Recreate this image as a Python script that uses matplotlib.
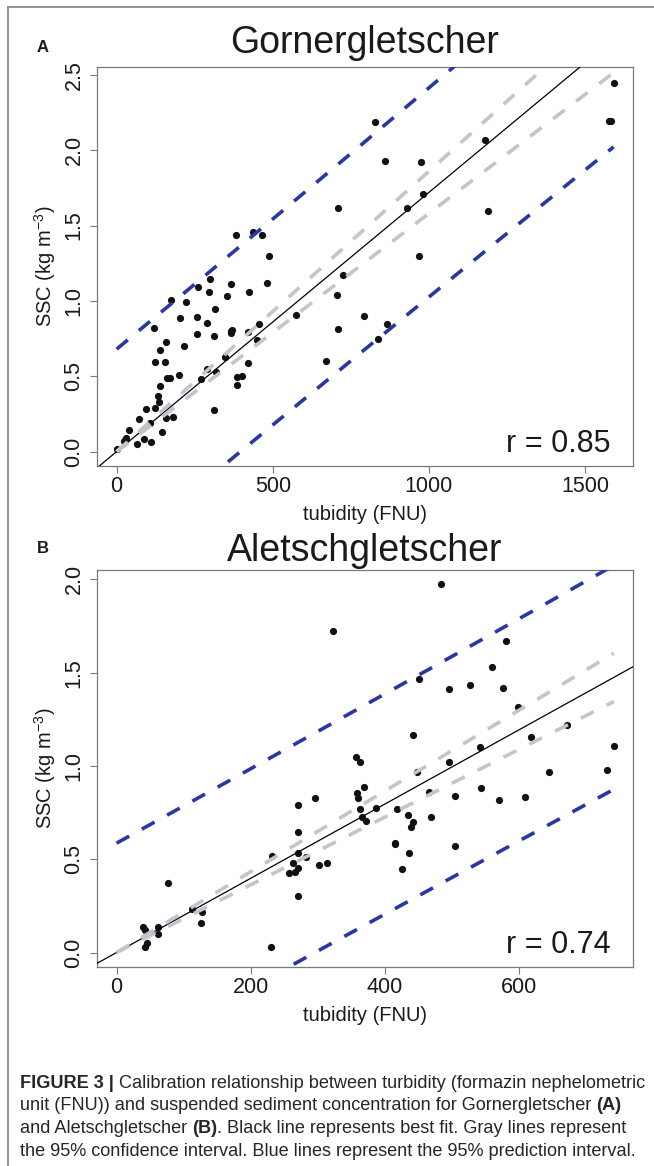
import numpy as np
import matplotlib
matplotlib.use("Agg")
import matplotlib.pyplot as plt
from matplotlib.lines import Line2D

plt.rcParams['font.family'] = ['Liberation Sans', 'DejaVu Sans']
plt.rcParams['mathtext.fontset'] = 'custom'
plt.rcParams['mathtext.rm'] = 'Liberation Sans'

# ---- panel A: Gornergletscher ----
gorner_turb = [829, 708, 381, 436, 465, 487, 300, 262, 367, 296, 423, 482, 353, 173, 221,
               314, 202, 258, 289, 455, 574, 121, 257, 311, 365, 371, 367, 420, 158, 140,
               217, 449, 124, 155, 348, 420, 671, 200, 161, 170, 270, 289, 317, 386, 400,
               387, 140, 133, 135, 123, 94, 72, 106, 157, 179, 39, 144, 29, 23, 86,
               66, 110, 2, 311, 836, 793, 725, 706, 708, 858, 976, 929, 982, 1180, 1190,
               1592, 1576, 1583, 969, 865]
gorner_ssc = [2.19, 1.615, 1.438, 1.456, 1.438, 1.301, 1.143, 1.093, 1.11, 1.059, 1.059, 1.117, 1.035, 1.006, 0.993,
              0.944, 0.886, 0.895, 0.851, 0.849, 0.909, 0.818, 0.778, 0.769, 0.80, 0.81, 0.79, 0.796, 0.729, 0.676,
              0.70, 0.743, 0.596, 0.596, 0.630, 0.587, 0.60, 0.51, 0.485, 0.487, 0.483, 0.55, 0.527, 0.494, 0.50,
              0.443, 0.434, 0.372, 0.33, 0.288, 0.281, 0.217, 0.188, 0.226, 0.228, 0.142, 0.133, 0.091, 0.073, 0.084,
              0.051, 0.062, 0.018, 0.275, 0.749, 0.902, 1.175, 1.042, 0.816, 1.926, 1.919, 1.614, 1.709, 2.068, 1.598,
              2.449, 2.194, 2.194, 1.297, 0.844]
gorner_slope = 0.00172     # best fit through origin
gorner_ci = 0.00014        # half width of slope confidence interval
gorner_pi = 0.68           # prediction half width at 0
gorner_r = "r = 0.85"

# ---- panel B: Aletschgletscher ----
aletsch_turb = [322, 357, 363, 369, 359, 360, 296, 271, 363, 386, 365, 372, 271, 232, 271,
                263, 283, 301, 314, 257, 266, 271, 270, 77, 112, 127, 126, 39, 42, 61,
                62, 45, 42, 230, 483, 580, 560, 451, 496, 527, 576, 598, 442, 541, 671,
                617, 741, 496, 447, 644, 731, 466, 504, 543, 570, 608, 418, 435, 442, 439,
                469, 415, 415, 436, 504, 426]
aletsch_ssc = [1.725, 1.05, 1.021, 0.886, 0.857, 0.829, 0.829, 0.793, 0.768, 0.773, 0.725, 0.707, 0.645, 0.518, 0.532,
               0.479, 0.511, 0.471, 0.479, 0.428, 0.434, 0.455, 0.305, 0.372, 0.234, 0.216, 0.157, 0.139, 0.122, 0.139,
               0.10, 0.05, 0.032, 0.027, 1.975, 1.668, 1.529, 1.464, 1.412, 1.434, 1.418, 1.314, 1.168, 1.103, 1.221,
               1.157, 1.109, 1.02, 0.966, 0.97, 0.977, 0.861, 0.841, 0.884, 0.82, 0.836, 0.77, 0.736, 0.70, 0.675,
               0.725, 0.588, 0.58, 0.536, 0.573, 0.448]
aletsch_slope = 0.00199
aletsch_ci = 0.000175
aletsch_pi = 0.586
aletsch_r = "r = 0.74"

W, H = 654, 1166
BLUE = '#2b37a1'
GRAY = '#c3c5cc'
AXC = '#7a7a7a'


def fx(px):
    return px / W


def fy(py):
    return 1 - py / H


fig = plt.figure(figsize=(W / 100, H / 100), dpi=100)

# outer frame (left and top only)
fig.add_artist(Line2D([fx(8), fx(8)], [0, fy(6.7)], color='#8a8a8a', lw=1.3))
fig.add_artist(Line2D([fx(8), 1], [fy(6.7), fy(6.7)], color='#8a8a8a', lw=1.3))


def panel(top, bottom, turb, ssc, slope, ci, pi, xlim, ylim, xticks, yticks,
          letter, title, title_base, letter_base, rtext):
    ax = fig.add_axes([fx(96.7), fy(bottom), fx(633.3) - fx(96.7), (bottom - top) / H])
    ax.plot(turb, ssc, 'o', color='#111111', ms=5.2, mew=0, zorder=2)

    xx = np.linspace(xlim[0], xlim[1], 100)
    ax.plot(xx, slope * xx, color='black', lw=0.9, zorder=3)

    xr = np.linspace(0, max(turb), 200)
    fit = slope * xr
    ax.plot(xr, fit + ci * xr, color=GRAY, lw=2.6, dashes=(4, 4), zorder=4)
    ax.plot(xr, fit - ci * xr, color=GRAY, lw=2.6, dashes=(4, 4), zorder=4)
    half = np.sqrt(pi ** 2 + (ci * xr) ** 2)
    ax.plot(xr, fit + half, color=BLUE, lw=2.6, dashes=(4, 4), zorder=4)
    ax.plot(xr, fit - half, color=BLUE, lw=2.6, dashes=(4, 4), zorder=4)

    ax.set_xlim(xlim)
    ax.set_ylim(ylim)
    ax.set_xticks(xticks, [str(t) for t in xticks])
    ax.set_yticks(yticks, ['%.1f' % t for t in yticks], rotation=90, va='center')
    ax.tick_params(axis='both', length=4.8, width=0.8, color=AXC, labelsize=15.5,
                   labelcolor='#1a1a1a')
    ax.tick_params(axis='x', pad=2.6)
    ax.tick_params(axis='y', pad=3.9)
    for s in ax.spines.values():
        s.set_color(AXC)
        s.set_linewidth(0.9)

    ax.text(0.958, 0.035, rtext, transform=ax.transAxes, ha='right', va='baseline',
            fontsize=22, color='#1a1a1a')

    # labels and titles
    fig.text(fx(365), fy(title_base), title, ha='center', va='baseline', fontsize=27,
             color='#1a1a1a')
    fig.text(fx(37), fy(letter_base), letter, ha='left', va='baseline', fontsize=12,
             fontweight='bold', color='#1a1a1a')
    fig.text(fx(365), fy(bottom + 54), 'tubidity (FNU)', ha='center', va='baseline',
             fontsize=14.5, color='#1a1a1a')
    fig.text(fx(52), fy((top + bottom) / 2), r'SSC (kg m$\mathregular{^{-3}}$)',
             ha='center', va='baseline', rotation=90, rotation_mode='anchor',
             fontsize=14.5, color='#1a1a1a')
    return ax


panel(67, 465.7, gorner_turb, gorner_ssc, gorner_slope, gorner_ci, gorner_pi,
      (-64, 1655), (-0.094, 2.553), [0, 500, 1000, 1500], [0, 0.5, 1.0, 1.5, 2.0, 2.5],
      'A', 'Gornergletscher', 53, 51.7, gorner_r)
panel(570, 966.7, aletsch_turb, aletsch_ssc, aletsch_slope, aletsch_ci, aletsch_pi,
      (-29.6, 770), (-0.076, 2.05), [0, 200, 400, 600], [0, 0.5, 1.0, 1.5, 2.0],
      'B', 'Aletschgletscher', 561.5, 553, aletsch_r)

# caption with mixed bold text
caption = [
    [("FIGURE 3 |", 'bold'), (" Calibration relationship between turbidity (formazin nephelometric", 'normal')],
    [("unit (FNU)) and suspended sediment concentration for Gornergletscher", 'normal'), (" (A)", 'bold')],
    [("and Aletschgletscher", 'normal'), (" (B)", 'bold'),
     (". Black line represents best fit. Gray lines represent", 'normal')],
    [("the 95% confidence interval. Blue lines represent the 95% prediction interval.", 'normal')],
]
caption_base = [1088, 1110.5, 1133, 1155.5]
cap_size = 13.1

renderer = fig.canvas.get_renderer()
probe = fig.text(0, 0, 'a a', fontsize=cap_size)
w_aa = probe.get_window_extent(renderer=renderer).width
probe.set_text('aa')
space_w = w_aa - probe.get_window_extent(renderer=renderer).width
probe.remove()

for parts, base in zip(caption, caption_base):
    x = 20
    for s, w in parts:
        if s.startswith(' '):
            x += space_w
            s = s.lstrip(' ')
        t = fig.text(fx(x), fy(base), s, fontsize=cap_size, fontweight=w, va='baseline',
                     ha='left', color='#262626')
        x += t.get_window_extent(renderer=renderer).width

fig.savefig('out.png', dpi=100)
